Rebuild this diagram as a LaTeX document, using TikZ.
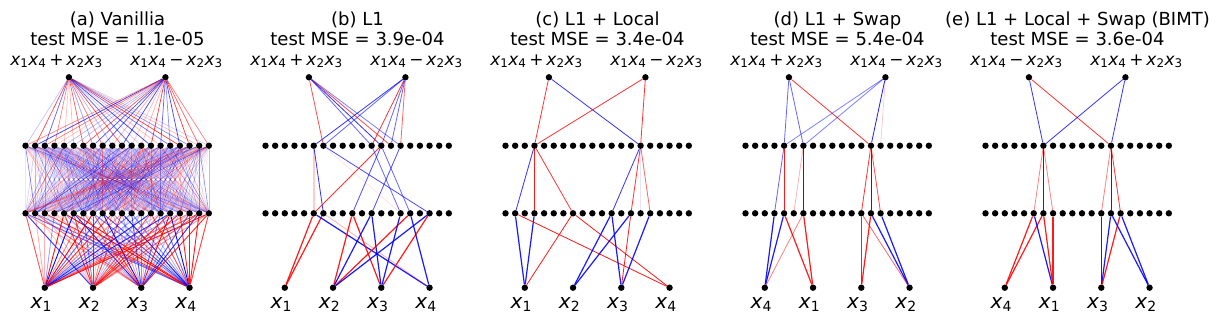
\documentclass[tikz,border=0pt]{standalone}
\usepackage{fontspec}
\setmainfont{DejaVu Sans}
\usetikzlibrary{backgrounds}
\newcommand\xv[1]{{\itshape x}\textsubscript{#1}}
\newcommand\lplus{\xv1\xv4\,+\,\xv2\xv3}
\newcommand\lminus{\xv1\xv4\,\char"2212\,\xv2\xv3}
\tikzset{
  dot/.style={circle, fill=black, inner sep=0pt, minimum size=6.4pt},
  ttl/.style={anchor=base, inner sep=0pt, font=\fontsize{18}{20}\selectfont},
  lab/.style={anchor=base, inner sep=0pt, font=\fontsize{17}{20}\selectfont},
  inlab/.style={anchor=base, inner sep=0pt, font=\fontsize{20}{22}\selectfont},
  pw/.style={draw=red, line width=0.8pt},
  nw/.style={draw=blue, line width=0.8pt},
  s1/.style={line width=1.2pt},
}
\newcommand\mknodes[2]{%
  \foreach \k in {0,...,19}{
    \node[dot] (#1-h1-\k) at ({#2+9.65*\k},145.7) {};
    \node[dot] (#1-h2-\k) at ({#2+9.65*\k},213.3) {};
  }
  \node[dot] (#1-t0) at ({#2+9.65*4.5},77.3) {};
  \node[dot] (#1-t1) at ({#2+9.65*14.5},77.3) {};
  \foreach \k/\p in {0/2,1/7,2/12,3/17}{
    \node[dot] (#1-in-\k) at ({#2+9.65*\p},287.7) {};
  }
}
\newcommand\mklabels[6]{%
  \node[ttl] (#1-title) at ({#2+92},25) {#3};
  \node[ttl] (#1-mse) at ({#2+92},45) {test MSE = #4};
  \node[lab] (#1-lt0) at ({#2+31},65) {#5};
  \node[lab] (#1-lt1) at ({#2+151},65) {#6};
}
\newcommand\inlabels[6]{%
  \node[inlab] (#1-li0) at ({#2+9.65*2-3.5},308) {#3};
  \node[inlab] (#1-li1) at ({#2+9.65*7-3.5},308) {#4};
  \node[inlab] (#1-li2) at ({#2+9.65*12-3.5},308) {#5};
  \node[inlab] (#1-li3) at ({#2+9.65*17-3.5},308) {#6};
}
\begin{document}
\begin{tikzpicture}[x=1pt,y=-1pt]
\useasboundingbox (0,0) rectangle (1224,324);
\mknodes{a}{25.5}
\mknodes{b}{265.5}
\mknodes{c}{505.5}
\mknodes{d}{745.5}
\mknodes{e}{985.5}
\mklabels{a}{25.5}{(a) Vanillia}{1.1e-05}{\lplus}{\lminus}
\mklabels{b}{265.5}{(b) L1}{3.9e-04}{\lplus}{\lminus}
\mklabels{c}{505.5}{(c) L1 + Local}{3.4e-04}{\lplus}{\lminus}
\mklabels{d}{745.5}{(d) L1 + Swap}{5.4e-04}{\lplus}{\lminus}
\mklabels{e}{985.5}{(e) L1 + Local + Swap (BIMT)}{3.6e-04}{\lminus}{\lplus}
\inlabels{a}{25.5}{\xv1}{\xv2}{\xv3}{\xv4}
\inlabels{b}{265.5}{\xv1}{\xv2}{\xv3}{\xv4}
\inlabels{c}{505.5}{\xv1}{\xv2}{\xv3}{\xv4}
\inlabels{d}{745.5}{\xv4}{\xv1}{\xv3}{\xv2}
\inlabels{e}{985.5}{\xv4}{\xv1}{\xv3}{\xv2}
\begin{pgfonlayer}{background}
% ---------- panel (a): dense ----------
\pgfmathsetseed{7}
\foreach \i in {0,...,19}{
  \foreach \t in {0,1}{
    \pgfmathsetmacro\cv{rnd}\pgfmathsetmacro\op{0.15+0.65*rnd}
    \ifdim\cv pt<0.45pt\def\cl{red}\else\def\cl{blue}\fi
    \draw[draw=\cl,opacity=\op,line width=0.7pt] (a-t\t) -- (a-h1-\i);
  }}
\foreach \i in {0,...,19}{
  \foreach \j in {0,...,19}{
    \pgfmathsetmacro\cv{rnd}\pgfmathsetmacro\op{0.06+0.6*rnd*rnd}
    \ifdim\cv pt<0.35pt\def\cl{red}\else\def\cl{blue}\fi
    \draw[draw=\cl,opacity=\op,line width=0.6pt] (a-h1-\i) -- (a-h2-\j);
  }}
\foreach \i in {0,...,19}{
  \foreach \j in {0,...,3}{
    \pgfmathsetmacro\cv{rnd}\pgfmathsetmacro\op{0.15+0.85*rnd}
    \ifdim\cv pt<0.5pt\def\cl{red}\else\def\cl{blue}\fi
    \draw[draw=\cl,opacity=\op,line width=0.9pt] (a-h2-\i) -- (a-in-\j);
  }}
% ---------- panel (b) ----------
\draw[pw,opacity=.7] (b-t0) -- (b-h1-6);
\draw[nw,opacity=.6] (b-t0) -- (b-h1-11);
\draw[nw,opacity=.8] (b-t0) -- (b-h1-12);
\draw[pw,opacity=.7] (b-t0) -- (b-h1-13);
\draw[nw,opacity=.5] (b-t0) -- (b-h1-14);
\draw[nw,opacity=.8] (b-t1) -- (b-h1-5);
\draw[nw,opacity=.6] (b-t1) -- (b-h1-6);
\draw[pw,opacity=.8] (b-t1) -- (b-h1-11);
\draw[nw,opacity=.6] (b-t1) -- (b-h1-12);
\draw[nw,opacity=.6] (b-t1) -- (b-h1-13);
\draw[pw,opacity=.6] (b-t1) -- (b-h1-14);
\draw[pw,opacity=.2,line width=1.5pt] (b-h1-5) -- (b-h2-5);
\draw[nw,opacity=.8] (b-h1-5) -- (b-h2-6);
\draw[nw,opacity=.7] (b-h1-6) -- (b-h2-17);
\draw[pw,opacity=.8] (b-h1-12) -- (b-h2-5);
\draw[nw,opacity=.7] (b-h1-12) -- (b-h2-9);
\draw[nw,opacity=.7] (b-h1-14) -- (b-h2-11);
\draw[nw,opacity=.6] (b-h1-11) -- (b-h2-14);
\draw[nw,opacity=.6] (b-h1-12) -- (b-h2-15);
\draw[pw,opacity=.1] (b-h1-6) -- (b-h2-14);
\draw[pw,s1,opacity=.9] (b-h2-5) -- (b-in-0);
\draw[pw,s1,opacity=.9] (b-h2-6) -- (b-in-0);
\draw[nw,s1,opacity=.9] (b-h2-5) -- (b-in-3);
\draw[pw,opacity=.3] (b-h2-6) -- (b-in-3);
\draw[pw,s1,opacity=.9] (b-h2-9) -- (b-in-1);
\draw[pw,s1,opacity=.9] (b-h2-9) -- (b-in-2);
\draw[nw,s1,opacity=.9] (b-h2-11) -- (b-in-1);
\draw[nw,s1,opacity=.9] (b-h2-11) -- (b-in-2);
\draw[pw,s1,opacity=.9] (b-h2-15) -- (b-in-1);
\draw[nw,s1,opacity=.9] (b-h2-17) -- (b-in-1);
\draw[pw,s1,opacity=.9] (b-h2-17) -- (b-in-2);
\draw[nw,s1,opacity=.9] (b-h2-14) -- (b-in-2);
\draw[nw,s1,opacity=.9] (b-h2-15) -- (b-in-3);
% ---------- panel (c) ----------
\draw[pw,opacity=.8] (c-t0) -- (c-h1-3);
\draw[nw,opacity=.8] (c-t0) -- (c-h1-14);
\draw[pw,opacity=.8] (c-t1) -- (c-h1-3);
\draw[pw,opacity=.8] (c-t1) -- (c-h1-14);
\draw[nw,opacity=.8] (c-h1-3) -- (c-h2-1);
\draw[pw,opacity=.9] (c-h1-3) -- (c-h2-3);
\draw[pw,opacity=.8] (c-h1-3) -- (c-h2-7);
\draw[nw,opacity=.8] (c-h1-14) -- (c-h2-11);
\draw[pw,opacity=.8] (c-h1-14) -- (c-h2-13);
\draw[pw,opacity=.6] (c-h1-14) -- (c-h2-15);
\draw[nw,opacity=.1] (c-h1-14) -- (c-h2-14);
\draw[nw,s1,opacity=.9] (c-h2-1) -- (c-in-0);
\draw[nw,s1,opacity=.9] (c-h2-3) -- (c-in-0);
\draw[pw,opacity=.9] (c-h2-7) -- (c-in-0);
\draw[pw,opacity=.9] (c-h2-1) -- (c-in-3);
\draw[pw,opacity=.9] (c-h2-7) -- (c-in-3);
\draw[nw,s1,opacity=.9] (c-h2-11) -- (c-in-1);
\draw[nw,s1,opacity=.9] (c-h2-13) -- (c-in-1);
\draw[nw,s1,opacity=.9] (c-h2-11) -- (c-in-2);
\draw[pw,opacity=.9] (c-h2-13) -- (c-in-2);
\draw[nw,s1,opacity=.9] (c-h2-15) -- (c-in-2);
% ---------- panel (d) ----------
\draw[nw,opacity=.6] (d-t0) -- (d-h1-4);
\draw[nw,opacity=.6] (d-t0) -- (d-h1-6);
\draw[pw,opacity=.8] (d-t0) -- (d-h1-13);
\draw[nw,opacity=.5] (d-t1) -- (d-h1-4);
\draw[nw,opacity=.5] (d-t1) -- (d-h1-6);
\draw[nw,opacity=.9] (d-t1) -- (d-h1-13);
\draw[pw,opacity=.2] (d-t1) -- (d-h1-14);
\draw[nw,opacity=.6] (d-h1-4) -- (d-h2-3);
\draw[pw,opacity=.9] (d-h1-4) -- (d-h2-4);
\draw[pw,opacity=.3] (d-h1-6) -- (d-h2-5);
\draw[nw,opacity=.9] (d-h1-6) -- (d-h2-6);
\draw[pw,opacity=.8] (d-h1-13) -- (d-h2-12);
\draw[nw,opacity=.9] (d-h1-13) -- (d-h2-13);
\draw[pw,opacity=.7] (d-h1-13) -- (d-h2-14);
\draw[nw,s1,opacity=.9] (d-h2-3) -- (d-in-0);
\draw[nw,s1,opacity=.9] (d-h2-4) -- (d-in-0);
\draw[pw,opacity=.5] (d-h2-6) -- (d-in-0);
\draw[pw,s1,opacity=.9] (d-h2-4) -- (d-in-1);
\draw[pw,s1,opacity=.9] (d-h2-6) -- (d-in-1);
\draw[pw,s1,opacity=.9] (d-h2-12) -- (d-in-2);
\draw[pw,s1,opacity=.9] (d-h2-13) -- (d-in-2);
\draw[nw,s1,opacity=.9] (d-h2-13) -- (d-in-3);
\draw[nw,s1,opacity=.9] (d-h2-14) -- (d-in-3);
\draw[pw,opacity=.6] (d-h2-12) -- (d-in-3);
% ---------- panel (e) ----------
\draw[nw,opacity=.8] (e-t0) -- (e-h1-6);
\draw[pw,opacity=.8] (e-t0) -- (e-h1-13);
\draw[nw,opacity=.8] (e-t1) -- (e-h1-6);
\draw[nw,opacity=.8] (e-t1) -- (e-h1-13);
\draw[pw,opacity=.5] (e-h1-6) -- (e-h2-5);
\draw[nw,opacity=.9] (e-h1-6) -- (e-h2-6);
\draw[pw,opacity=.5] (e-h1-6) -- (e-h2-7);
\draw[pw,opacity=.5] (e-h1-13) -- (e-h2-12);
\draw[nw,opacity=.9] (e-h1-13) -- (e-h2-13);
\draw[pw,opacity=.8] (e-h1-13) -- (e-h2-14);
\draw[pw,s1,opacity=.9] (e-h2-5) -- (e-in-0);
\draw[pw,s1,opacity=.9] (e-h2-6) -- (e-in-0);
\draw[nw,s1,opacity=.9] (e-h2-5) -- (e-in-1);
\draw[pw,s1,opacity=.9] (e-h2-6) -- (e-in-1);
\draw[pw,opacity=.9,line width=1.6pt] (e-h2-7) -- (e-in-1);
\draw[nw,s1,opacity=.9] (e-h2-12) -- (e-in-2);
\draw[nw,s1,opacity=.9] (e-h2-13) -- (e-in-2);
\draw[pw,s1,opacity=.9] (e-h2-14) -- (e-in-2);
\draw[nw,s1,opacity=.9] (e-h2-13) -- (e-in-3);
\draw[nw,s1,opacity=.9] (e-h2-14) -- (e-in-3);
\end{pgfonlayer}
\end{tikzpicture}
\end{document}
